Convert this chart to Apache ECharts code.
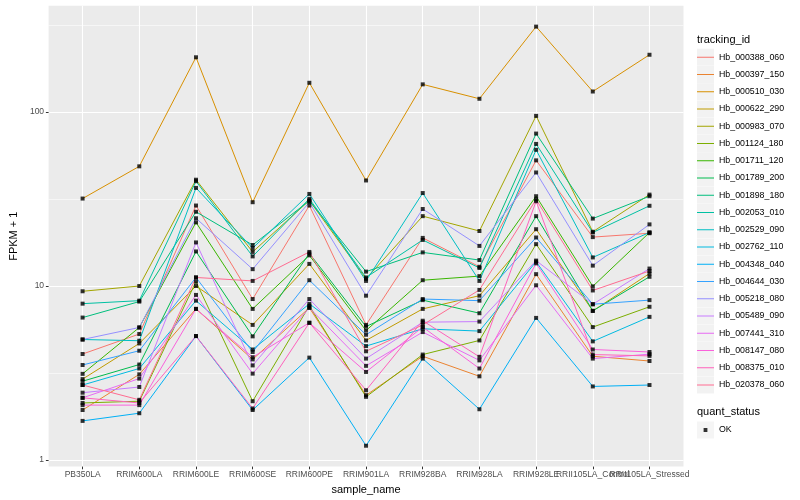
<!DOCTYPE html>
<html>
<head>
<meta charset="utf-8">
<script src="https://cdn.jsdelivr.net/npm/echarts@6/dist/echarts.min.js"></script>
<style>html,body{margin:0;padding:0;background:#fff;}#chart{width:800px;height:500px;}</style>
</head>
<body>
<div id="chart"></div>
<script>
const categories = ["PB350LA","RRIM600LA","RRIM600LE","RRIM600SE","RRIM600PE","RRIM901LA","RRIM928BA","RRIM928LA","RRIM928LE","RRII105LA_Control","RRII105LA_Stressed"];
const trackingIds = ["Hb_000388_060","Hb_000397_150","Hb_000510_030","Hb_000622_290","Hb_000983_070","Hb_001124_180","Hb_001711_120","Hb_001789_200","Hb_001898_180","Hb_002053_010","Hb_002529_090","Hb_002762_110","Hb_004348_040","Hb_004644_030","Hb_005218_080","Hb_005489_090","Hb_007441_310","Hb_008147_080","Hb_008375_010","Hb_020378_060"];
const yMajorTicks = [1, 10, 100];
const yMinorTicks = [3.1623, 31.623, 316.23];

const Hb_000388_060 = [4.07, 5.30, 29.0, 8.42, 29.0, 5.98, 18.9, 12.9, 52.7, 19.1, 20.1];
const Hb_000397_150 = [1.94, 3.11, 7.39, 3.79, 7.5, 2.36, 3.95, 3.03, 11.7, 3.95, 3.71];
const Hb_000510_030 = [31.8, 48.7, 206, 30.3, 147, 40.4, 144, 119, 309, 131, 213];
const Hb_000622_290 = [2.92, 4.68, 10.0, 5.98, 13.4, 4.87, 7.39, 8.8, 21.2, 7.2, 11.8];
const Hb_000983_070 = [9.33, 10.0, 40.8, 15.7, 31.0, 11.0, 25.2, 20.7, 94.9, 20.5, 33.5];
const Hb_001124_180 = [2.13, 2.18, 10.6, 2.18, 7.7, 2.31, 4.04, 4.87, 17.4, 5.81, 7.6];
const Hb_001711_120 = [3.13, 5.78, 23.2, 7.39, 15.0, 5.55, 10.8, 11.4, 32.8, 9.96, 20.3];
const Hb_001789_200 = [2.84, 3.54, 15.8, 5.14, 15.4, 5.85, 8.3, 6.98, 25.2, 7.2, 11.3];
const Hb_001898_180 = [6.59, 8.14, 26.7, 17.2, 30.9, 12.1, 15.6, 14.1, 75.1, 24.4, 32.8];
const Hb_002053_010 = [7.92, 8.24, 40.0, 14.8, 31.7, 11.2, 18.4, 12.7, 65.5, 20.3, 28.9];
const Hb_002529_090 = [4.93, 4.85, 36.6, 16.5, 33.8, 10.7, 34.2, 10.7, 60.6, 14.6, 20.3];
const Hb_002762_110 = [2.70, 3.36, 8.24, 4.32, 7.9, 4.52, 5.68, 5.51, 13.8, 4.81, 6.65];
const Hb_004348_040 = [1.68, 1.86, 5.16, 1.94, 3.88, 1.21, 3.83, 1.96, 6.56, 2.65, 2.70];
const Hb_004644_030 = [3.52, 4.25, 11.2, 4.18, 10.8, 5.25, 8.42, 8.24, 19.0, 7.86, 8.3];
const Hb_005218_080 = [4.93, 5.78, 24.5, 12.5, 30.3, 8.8, 27.7, 17.0, 44.9, 13.1, 22.6];
const Hb_005489_090 = [2.44, 2.63, 17.8, 3.50, 8.42, 3.83, 6.20, 6.25, 14.0, 7.86, 12.6];
const Hb_007441_310 = [2.28, 2.94, 8.89, 3.14, 7.5, 3.48, 5.44, 3.74, 10.1, 3.83, 4.06];
const Hb_008147_080 = [2.07, 2.07, 7.39, 3.90, 6.15, 3.21, 5.81, 3.36, 13.5, 4.32, 4.18];
const Hb_008375_010 = [2.28, 2.13, 5.16, 1.98, 6.15, 2.52, 6.32, 3.92, 30.7, 4.04, 3.97];
const Hb_020378_060 = [2.70, 2.22, 11.2, 10.7, 15.7, 4.22, 5.98, 9.5, 31.4, 9.43, 12.2];

const seriesValues = [Hb_000388_060, Hb_000397_150, Hb_000510_030, Hb_000622_290, Hb_000983_070, Hb_001124_180, Hb_001711_120, Hb_001789_200, Hb_001898_180, Hb_002053_010, Hb_002529_090, Hb_002762_110, Hb_004348_040, Hb_004644_030, Hb_005218_080, Hb_005489_090, Hb_007441_310, Hb_008147_080, Hb_008375_010, Hb_020378_060];
const palette = ["#F8766D","#EA8331","#D89000","#C09B00","#A3A500","#7CAE00","#39B600","#00BB4E","#00BF7D","#00C1A3","#00BFC4","#00BAE0","#00B0F6","#35A2FF","#9590FF","#C77CFF","#E76BF3","#FA62DB","#FF62BC","#FF6C91"];

const FONT = 'Liberation Sans, Arial, sans-serif';
const catIdx = categories.map((c, i) => i);
// split the tick labels over two axes so that overlapping labels are both drawn
const catIdxEven = catIdx.filter(i => i !== categories.length - 2);
const catIdxOdd = [categories.length - 2];

const lineSeries = trackingIds.map((id, k) => ({
  name: id,
  type: 'line',
  data: seriesValues[k].map((v, i) => [i, v]),
  showSymbol: false,
  symbol: 'none',
  lineStyle: { color: palette[k], width: 1 },
  itemStyle: { color: palette[k] },
  emphasis: { disabled: true },
  silent: true,
  animation: false,
  z: 2
}));

const pointData = [];
seriesValues.forEach(arr => arr.forEach((v, i) => pointData.push([i, v])));

const keyLine = 'path://M0,0h0.01v0.01h-0.01z M0,8h17v1.1h-17z M16.99,16.99h0.01v0.01h-0.01z';
const keySquare = 'path://M0,0h0.01v0.01h-0.01z M6.6,6.6h3.8v3.8h-3.8z M16.99,16.99h0.01v0.01h-0.01z';
const keyBox = 'path://M0,0h17v17h-17z';

const legendCommon = {
  orient: 'vertical', left: 697, padding: 0,
  itemWidth: 17, itemHeight: 17,
  selectedMode: false
};

const xLabelStyle = {
  formatter: v => categories[Math.round(v)],
  fontSize: 8.5, color: '#4D4D4D', margin: 3.5, fontFamily: FONT,
  hideOverlap: false, showMinLabel: true, showMaxLabel: true
};

const chart = echarts.init(document.getElementById('chart'), null, { renderer: 'canvas' });
chart.setOption({
  animation: false,
  backgroundColor: '#ffffff',
  textStyle: { fontFamily: FONT },
  title: [
    { text: 'tracking_id', left: 697, top: 34, padding: 0, textStyle: { fontSize: 11, fontWeight: 'normal', color: '#000', fontFamily: FONT } },
    { text: 'quant_status', left: 697, top: 406, padding: 0, textStyle: { fontSize: 11, fontWeight: 'normal', color: '#000', fontFamily: FONT } }
  ],
  legend: [
    Object.assign({}, legendCommon, {
      data: trackingIds.map(id => ({ name: id, icon: keyBox, itemStyle: { color: '#F2F2F2' } })),
      top: 48.7, itemGap: 0.25, z: 1,
      textStyle: { fontSize: 8.8, color: 'rgba(0,0,0,0)', fontFamily: FONT }
    }),
    Object.assign({}, legendCommon, {
      data: trackingIds.map((id, k) => ({ name: id, icon: keyLine, itemStyle: { color: palette[k] } })),
      top: 48.7, itemGap: 0.25, z: 3,
      textStyle: { fontSize: 8.8, color: '#000', fontFamily: FONT }
    }),
    Object.assign({}, legendCommon, {
      data: [{ name: 'OK', icon: keyBox, itemStyle: { color: '#F2F2F2' } }],
      top: 421.5, z: 1,
      textStyle: { fontSize: 8.8, color: 'rgba(0,0,0,0)', fontFamily: FONT }
    }),
    Object.assign({}, legendCommon, {
      data: [{ name: 'OK', icon: keySquare, itemStyle: { color: '#000' } }],
      top: 421.5, z: 3,
      textStyle: { fontSize: 8.8, color: '#000', fontFamily: FONT }
    })
  ],
  grid: {
    left: 39.8, right: 116.5, top: 5.8, bottom: 29.6,
    show: true, backgroundColor: '#EBEBEB', borderWidth: 0, containLabel: false
  },
  xAxis: [
    {
      type: 'value', min: -0.6, max: 10.6, position: 'bottom',
      name: 'sample_name', nameLocation: 'middle', nameGap: 14,
      nameTextStyle: { fontSize: 11, color: '#000', fontFamily: FONT },
      axisLine: { show: false, onZero: false },
      axisTick: { show: true, customValues: catIdx, length: 2.7, lineStyle: { color: '#333333', width: 1 } },
      axisLabel: Object.assign({ customValues: catIdxEven }, xLabelStyle),
      splitLine: { show: true, lineStyle: { color: '#FFFFFF', width: 1.1 } }
    },
    {
      type: 'value', min: -0.6, max: 10.6, position: 'bottom', offset: 0,
      axisLine: { show: false, onZero: false },
      axisTick: { show: false, customValues: catIdxOdd },
      axisLabel: Object.assign({ customValues: catIdxOdd }, xLabelStyle),
      splitLine: { show: false }
    }
  ],
  yAxis: [
    {
      type: 'log', logBase: 10, min: 0.918, max: 407,
      name: 'FPKM + 1', nameLocation: 'middle', nameGap: 22, nameRotate: 90,
      nameTextStyle: { fontSize: 11, color: '#000', fontFamily: FONT },
      axisLine: { show: false, onZero: false },
      axisTick: { show: true, customValues: yMajorTicks, length: 2.7, lineStyle: { color: '#333333', width: 1 } },
      axisLabel: { customValues: yMajorTicks, fontSize: 8.5, color: '#4D4D4D', margin: 4.5, fontFamily: FONT, showMinLabel: true, showMaxLabel: true },
      splitLine: { show: true, lineStyle: { color: '#FFFFFF', width: 1.1 } }
    },
    {
      type: 'log', logBase: 10, min: 0.918, max: 407, position: 'left',
      axisLine: { show: false, onZero: false },
      axisTick: { show: false, customValues: yMinorTicks },
      axisLabel: { show: false, customValues: yMinorTicks },
      splitLine: { show: true, lineStyle: { color: '#FFFFFF', width: 0.55 } }
    }
  ],
  series: lineSeries.concat([{
    name: 'OK',
    type: 'scatter',
    data: pointData,
    symbol: 'rect',
    symbolSize: 4,
    itemStyle: { color: '#000000' },
    silent: true,
    animation: false,
    z: 5
  }])
});
</script>
</body>
</html>
